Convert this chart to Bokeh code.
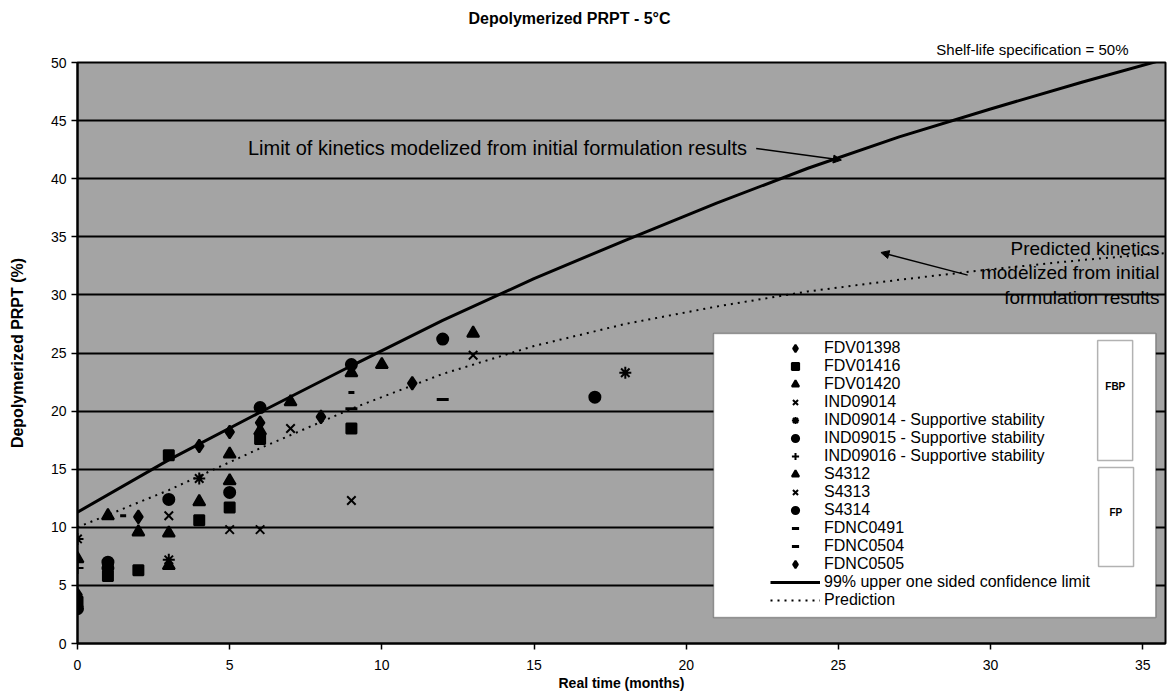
from bokeh.plotting import figure
from bokeh.models import (Range1d, FixedTicker, Legend, LegendItem, BoxAnnotation,
                          Label, Arrow, NormalHead, Title)
from bokeh.embed import file_html
from bokeh.resources import INLINE

FONT = "Liberation Sans"

# ---------------- data ----------------
months_fdv01398 = [0, 4, 5, 6]
pct_fdv01398 = [4.2, 17.0, 18.2, 19.0]

months_fdv01416 = [0, 1, 2, 3, 4, 5, 6, 9]
pct_fdv01416 = [3.6, 5.8, 6.3, 16.2, 10.6, 11.7, 17.6, 18.5]

months_fdv01420 = [0, 3, 5, 6, 7, 9]
pct_fdv01420 = [7.3, 6.7, 16.3, 18.3, 20.8, 23.3]

months_ind09014 = [3, 6, 9]
pct_ind09014 = [11.0, 9.8, 12.3]

months_ind09014_sup = [0, 3, 4, 18]
pct_ind09014_sup = [9.0, 7.2, 14.2, 23.3]

months_ind09015_sup = [0, 1, 3, 6, 12]
pct_ind09015_sup = [3.0, 7.0, 12.4, 20.3, 26.2]

months_ind09016_sup = [0]
pct_ind09016_sup = [6.5]

months_s4312 = [1, 2, 3, 4, 5, 10, 13]
pct_s4312 = [11.0, 9.6, 9.5, 12.2, 14.0, 24.0, 26.7]

months_s4313 = [5, 7, 13]
pct_s4313 = [9.8, 18.5, 24.8]

months_s4314 = [1, 5, 9, 17]
pct_s4314 = [6.5, 13.0, 24.0, 21.2]

months_fdnc0491 = [1.5, 9]
pct_fdnc0491 = [11.0, 21.6]

months_fdnc0504 = [9, 12]
pct_fdnc0504 = [20.2, 21.0]

months_fdnc0505 = [2, 8, 11]
pct_fdnc0505 = [10.9, 19.5, 22.4]

# 99% upper one-sided confidence limit and prediction curves
curve_months = [0, 3, 6, 9, 12, 15, 18, 21, 24, 27, 30, 33, 35.75]
limit_pct = [11.3, 15.8, 19.9, 23.9, 27.8, 31.4, 34.7, 37.9, 40.9, 43.6, 46.0, 48.3, 50.3]
prediction_pct = [10.0, 13.2, 16.8, 20.2, 23.2, 25.6, 27.5, 29.0, 30.3, 31.3, 32.2, 33.0, 33.6]

x_ticks = [0, 5, 10, 15, 20, 25, 30, 35]
y_ticks = [0, 5, 10, 15, 20, 25, 30, 35, 40, 45, 50]

# ---------------- figure ----------------
p = figure(frame_width=1088, frame_height=581,
           x_range=Range1d(0, 35.75), y_range=Range1d(0, 50),
           output_backend="svg", toolbar_location=None,
           min_border_left=77, min_border_right=2,
           min_border_top=62, min_border_bottom=46)

p.background_fill_color = "#a4a4a4"
p.border_fill_color = "white"
p.outline_line_color = "black"
p.outline_line_width = 2

p.xgrid.visible = False
p.ygrid.grid_line_color = "black"
p.ygrid.grid_line_width = 2
p.ygrid.ticker = FixedTicker(ticks=y_ticks)

for ax in (p.xaxis[0], p.yaxis[0]):
    ax.axis_line_color = "black"
    ax.axis_line_width = 2
    ax.major_tick_line_color = "black"
    ax.major_tick_line_width = 1.5
    ax.major_tick_out = 6
    ax.major_tick_in = 0
    ax.minor_tick_line_color = None
    ax.major_label_text_font = FONT
    ax.major_label_text_font_size = "14px"
    ax.major_label_text_color = "black"
    ax.axis_label_text_font = FONT
    ax.axis_label_text_font_style = "bold"
    ax.axis_label_text_color = "black"

p.xaxis.ticker = FixedTicker(ticks=x_ticks)
p.yaxis.ticker = FixedTicker(ticks=y_ticks)
p.xaxis.axis_label = "Real time (months)"
p.yaxis.axis_label = "Depolymerized PRPT (%)"
p.xaxis.axis_label_text_font_size = "14px"
p.yaxis.axis_label_text_font_size = "16px"
p.xaxis.major_label_standoff = 10
p.xaxis.axis_label_standoff = 2
p.yaxis.axis_label_standoff = 22

# titles
p.add_layout(Title(text="Shelf-life specification = 50%", align="right", offset=37,
                   text_font=FONT, text_font_size="15px", text_font_style="normal",
                   text_color="black", standoff=9), "above")
p.add_layout(Title(text="Depolymerized PRPT - 5°C", align="left", offset=391,
                   text_font=FONT, text_font_size="16px", text_font_style="bold",
                   text_color="black", standoff=15), "above")

# legend white box and FBP / FP boxes (annotation, not data)
p.add_layout(BoxAnnotation(left=20.9, right=35.43, top=26.68, bottom=2.24,
                           fill_color="white", fill_alpha=1.0,
                           line_color="black", line_width=1.5, level="overlay"))
p.add_layout(BoxAnnotation(left=33.52, right=34.67, top=26.08, bottom=15.75,
                           fill_color="white", fill_alpha=1.0,
                           line_color="black", line_width=1.5, level="overlay"))
p.add_layout(BoxAnnotation(left=33.55, right=34.70, top=15.15, bottom=6.63,
                           fill_color="white", fill_alpha=1.0,
                           line_color="black", line_width=1.5, level="overlay"))
p.add_layout(Label(x=34.1, y=22.1, text="FBP", text_font=FONT, text_font_size="10px",
                   text_font_style="bold", text_align="center", text_baseline="middle",
                   text_color="black", level="overlay"))
p.add_layout(Label(x=34.12, y=11.27, text="FP", text_font=FONT, text_font_size="10px",
                   text_font_style="bold", text_align="center", text_baseline="middle",
                   text_color="black", level="overlay"))

# curves
r_limit = p.line(curve_months, limit_pct, line_color="black", line_width=3)
r_pred = p.line(curve_months, prediction_pct, line_color="black", line_width=2,
                line_dash="2 5")

# series
series = [
    ("FDV01398", months_fdv01398, pct_fdv01398, "diamond", 13),
    ("FDV01416", months_fdv01416, pct_fdv01416, "square", 10),
    ("FDV01420", months_fdv01420, pct_fdv01420, "triangle", 12),
    ("IND09014", months_ind09014, pct_ind09014, "x", 12),
    ("IND09014 - Supportive stability", months_ind09014_sup, pct_ind09014_sup, "asterisk", 12),
    ("IND09015 - Supportive stability", months_ind09015_sup, pct_ind09015_sup, "circle", 11),
    ("IND09016 - Supportive stability", months_ind09016_sup, pct_ind09016_sup, "cross", 12),
    ("S4312", months_s4312, pct_s4312, "triangle", 12),
    ("S4313", months_s4313, pct_s4313, "x", 12),
    ("S4314", months_s4314, pct_s4314, "circle", 11),
    ("FDNC0491", months_fdnc0491, pct_fdnc0491, "dash", 6),
    ("FDNC0504", months_fdnc0504, pct_fdnc0504, "dash", 12),
    ("FDNC0505", months_fdnc0505, pct_fdnc0505, "diamond", 13),
]

items = []
for label, xs, ys, marker, size in series:
    lw = 3 if marker == "dash" else 2
    r = p.scatter(xs, ys, marker=marker, size=size, fill_color="black",
                  line_color="black", line_width=lw)
    items.append(LegendItem(label=label, renderers=[r]))

items.append(LegendItem(label="99% upper one sided confidence limit", renderers=[r_limit]))
items.append(LegendItem(label="Prediction", renderers=[r_pred]))

legend = Legend(items=items, location=(693, 34), orientation="vertical",
                glyph_width=50, glyph_height=18, label_height=18, spacing=0,
                padding=0, margin=0, label_standoff=4,
                label_text_font=FONT, label_text_font_size="16px",
                label_text_color="black",
                background_fill_alpha=0, border_line_alpha=0, level="overlay")
p.add_layout(legend)

# text annotations with arrows
p.add_layout(Label(x=5.6, y=42.6, text="Limit of kinetics modelized from initial formulation results",
                   text_font=FONT, text_font_size="20px", text_baseline="middle",
                   text_align="left", text_color="black"))
p.add_layout(Arrow(end=NormalHead(size=8, fill_color="black", line_color="black"),
                   x_start=22.3, y_start=42.6, x_end=25.1, y_end=41.6,
                   line_color="black", line_width=1.5))

for txt, yy in [("Predicted kinetics", 34.0),
                ("modelized from initial", 31.9),
                ("formulation results", 29.8)]:
    p.add_layout(Label(x=35.55, y=yy, text=txt, text_font=FONT, text_font_size="19px",
                       text_baseline="middle", text_align="right", text_color="black"))
p.add_layout(Arrow(end=NormalHead(size=8, fill_color="black", line_color="black"),
                   x_start=29.25, y_start=31.7, x_end=26.4, y_end=33.65,
                   line_color="black", line_width=1.5))

open("out.html", "w").write(file_html(p, INLINE))
